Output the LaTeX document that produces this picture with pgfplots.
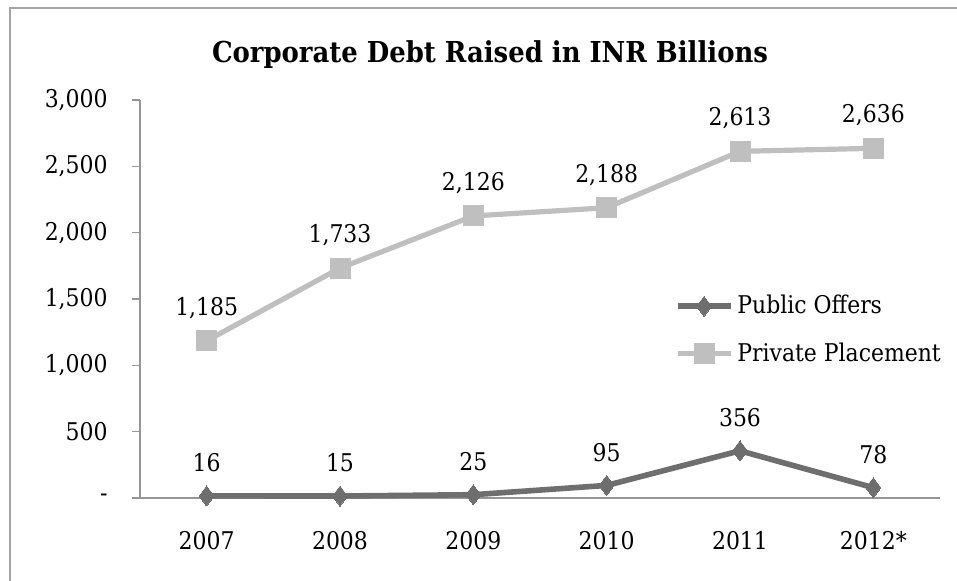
\documentclass[border=0pt]{standalone}
\usepackage{fontspec}
\setmainfont{DejaVu Serif Condensed}
\usepackage{pgfplots}
\pgfplotsset{compat=1.18}
\definecolor{pubcol}{RGB}{110,110,110}
\definecolor{privcol}{RGB}{191,191,191}
\definecolor{axcol}{RGB}{150,150,150}
\definecolor{framecol}{RGB}{165,165,165}
\begin{document}
\begin{tikzpicture}
\useasboundingbox (0,0) rectangle (478.5pt,-290pt);
\draw[framecol, line width=1pt] (5pt,-292pt) -- (5pt,-4pt) -- (480pt,-4pt);
\node[font=\fontsize{14.4}{18}\selectfont\bfseries] at (245pt,-27.5pt) {Corporate Debt Raised in INR Billions};
\begin{axis}[
  at={(70pt,-249pt)}, anchor=south west,
  scale only axis, width=400pt, height=199pt,
  xmin=-0.5, xmax=5.5, ymin=0, ymax=3000,
  axis lines*=left,
  axis line style={axcol, line width=0.75pt},
  every tick/.style={axcol, line width=0.75pt},
  tick align=outside,
  major tick length=4pt,
  xtick={0,...,5},
  xticklabels={2007,2008,2009,2010,2011,2012*},
  x tick style={draw=none},
  extra x ticks={-0.5,0.5,1.5,2.5,3.5,4.5,5.5},
  extra x tick labels={},
  extra x tick style={tick style={axcol, line width=0.75pt}},
  ytick={0,500,1000,1500,2000,2500,3000},
  yticklabels={-\hspace{5.5pt},500,{1,000},{1,500},{2,000},{2,500},{3,000}},
  tick label style={font=\fontsize{12.2}{15}\selectfont, text=black},
  xticklabel style={anchor=base, yshift=-21.5pt, inner sep=0pt},
  yticklabel style={anchor=east, xshift=-12pt, inner sep=0pt},
  clip=false,
  point meta=explicit symbolic,
  nodes near coords,
  every node near coord/.append style={font=\fontsize{12.2}{15}\selectfont, text=black, anchor=center, yshift=16.5pt},
  legend style={draw=none, fill=none, at={(0.668,0.52)}, anchor=north west,
    font=\fontsize{12.2}{15}\selectfont, row sep=9pt, inner sep=0pt,
    /tikz/every even column/.append style={column sep=0pt}},
  legend cell align=left,
  legend image code/.code={\draw[mark repeat=2,mark phase=2] plot coordinates {(0pt,0pt)(13.25pt,0pt)(26.5pt,0pt)};},
]
\addplot[pubcol, line width=2.8pt, mark=diamond*, mark size=5pt, mark options={solid, fill=pubcol, line width=0pt}]
  coordinates {(0,16)[16] (1,15)[15] (2,25)[25] (3,95)[95] (4,356)[356] (5,78)[78]};
\addlegendentry{Public Offers}
\addplot[privcol, line width=2.6pt, mark=square*, mark size=5pt, mark options={solid, fill=privcol, line width=0pt}]
  coordinates {(0,1185)[{1,185}] (1,1733)[{1,733}] (2,2126)[{2,126}] (3,2188)[{2,188}] (4,2613)[{2,613}] (5,2636)[{2,636}]};
\addlegendentry{Private Placement}
\end{axis}
\end{tikzpicture}
\end{document}
